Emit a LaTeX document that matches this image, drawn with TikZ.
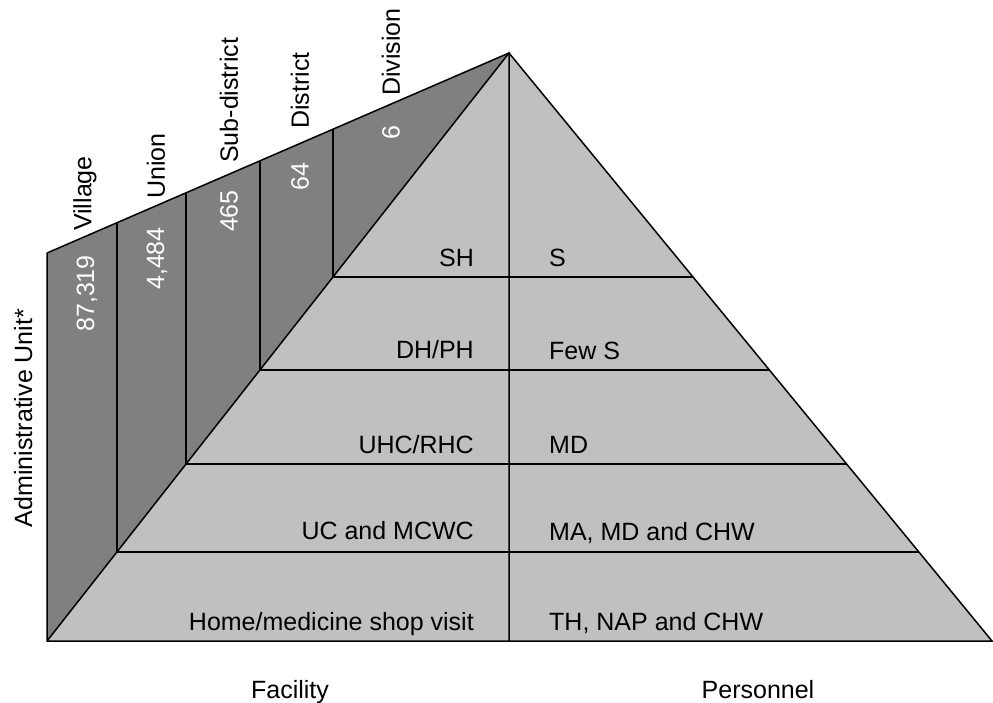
\documentclass[tikz,border=0pt]{standalone}
\usepackage{fontspec}
\setmainfont{Liberation Sans}
\usetikzlibrary{calc}
\definecolor{wallgrey}{HTML}{808080}
\definecolor{pyrgrey}{HTML}{C0C0C0}
\tikzset{
 edge/.style={draw=black,line width=1.5pt,line join=miter},
 lbl/.style={inner sep=0pt,font=\fontsize{25}{30}\selectfont},
 unitname/.style={lbl,rotate=90,anchor=west},
 unitcount/.style={lbl,rotate=90,anchor=east,text=white},
 facility/.style={lbl,anchor=base east},
 staff/.style={lbl,anchor=base west}
}

\begin{document}
\begin{tikzpicture}[x=1pt,y=-1pt]
 \useasboundingbox (0,0) rectangle (993,703);
 \coordinate (apex) at (509,53);
 \coordinate (tl) at (47,253);
 \coordinate (bl) at (47,641);
 \coordinate (br) at (992,641);
 % wall and pyramid
 \fill[wallgrey] (tl) -- (apex) -- (bl) -- cycle;
 \fill[pyrgrey] (apex) -- (br) -- (bl) -- cycle;
 \draw[edge] (tl) -- (bl) -- (br) -- (apex) -- (bl);
 \draw[edge] (tl) -- (apex) -- ($(bl)!(apex)!(br)$);
 % levels
 \draw[edge] ($(tl)!0.151!(apex)$) -- ($(bl)!0.151!(apex)$) -- ($(br)!0.151!(apex)$);
 \draw[edge] ($(tl)!0.301!(apex)$) -- ($(bl)!0.301!(apex)$) -- ($(br)!0.301!(apex)$);
 \draw[edge] ($(tl)!0.461!(apex)$) -- ($(bl)!0.461!(apex)$) -- ($(br)!0.461!(apex)$);
 \draw[edge] ($(tl)!0.619!(apex)$) -- ($(bl)!0.619!(apex)$) -- ($(br)!0.619!(apex)$);
 % administrative units
 \node[unitname] (village) at (85,231) {Village};
 \node[unitname] (union) at (156,199) {Union};
 \node[unitname] (subdistrict) at (229,163) {Sub-district};
 \node[unitname] (district) at (300,129) {District};
 \node[unitname] (division) at (391,96) {Division};
 \node[unitcount] (nvillage) at (87,255) {87,319};
 \node[unitcount] (nunion) at (157,227) {4,484};
 \node[unitcount] (nsubdistrict) at (229,190) {465};
 \node[unitcount] (ndistrict) at (300,162) {64};
 \node[unitcount] (ndivision) at (391,125) {6};
 % facilities and personnel
 \node[facility] (sh) at (474,267) {SH};
 \node[facility] (dh) at (474,358) {DH/PH};
 \node[facility] (uhc) at (474,453) {UHC/RHC};
 \node[facility] (uc) at (474,539) {UC and MCWC};
 \node[facility] (home) at (474,630) {Home/medicine shop visit};
 \node[staff] (s) at (549,267) {S};
 \node[staff] (fews) at (549,359) {Few S};
 \node[staff] (md) at (549,453) {MD};
 \node[staff] (mamd) at (549,540) {MA, MD and CHW};
 \node[staff] (th) at (549,630) {TH, NAP and CHW};
 % axis titles
 \node[lbl,anchor=base] (facilityaxis) at (290,698) {Facility};
 \node[lbl,anchor=base] (personnelaxis) at (758,698) {Personnel};
 \node[lbl,rotate=90,anchor=base] (unitaxis) at (32,418) {Administrative Unit*};
\end{tikzpicture}
\end{document}
